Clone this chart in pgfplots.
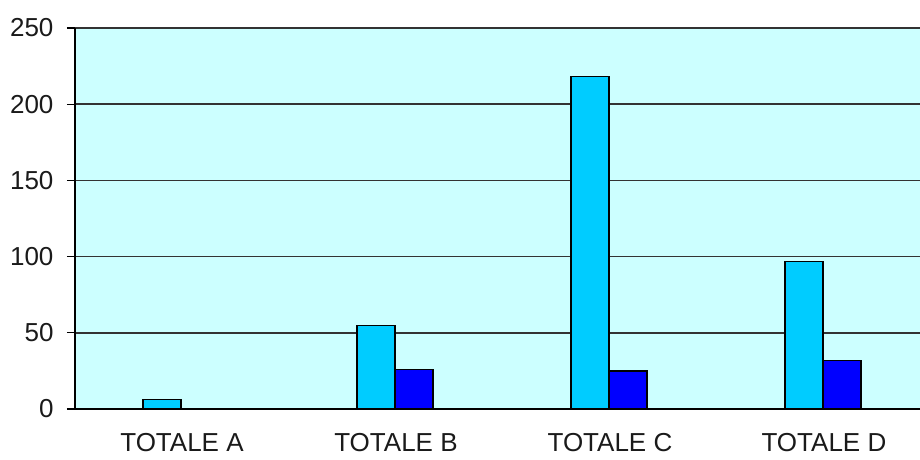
\documentclass[border=0pt]{standalone}
\usepackage{fontspec}
\setmainfont{Liberation Sans}
\usepackage{pgfplots}
\pgfplotsset{compat=1.18}
\definecolor{bgcol}{HTML}{CCFFFF}
\definecolor{lightbar}{HTML}{00CCFF}
\definecolor{darkbar}{HTML}{0000FF}
\definecolor{txt}{HTML}{1A1A1A}
\begin{document}
\begin{tikzpicture}
\begin{axis}[
  at={(0,0)}, anchor=south west,
  scale only axis,
  width=845pt, height=381pt,
  xmin=-0.5, xmax=3.449,
  ymin=0, ymax=250,
  ytick={0,50,100,150,200,250},
  xtick={0,1,2,3},
  xticklabels={TOTALE A,TOTALE B,TOTALE C,TOTALE D},
  major x tick style={draw=none},
  extra x ticks={0.5,1.5,2.5},
  extra x tick labels={},
  extra x tick style={major tick length=8pt, tick style={black, line width=1.2pt}, grid=none},
  tick align=outside,
  major tick length=8pt,
  ytick style={black, line width=1.2pt},
  axis x line*=bottom,
  axis y line*=left,
  axis line style={black, line width=1.3pt, -},
  ymajorgrids,
  grid style={draw=black!80, line width=1.6pt},
  axis background/.style={fill=bgcol},
  /pgf/number format/assume math mode=true,
  tick label style={font=\fontsize{26}{31}\selectfont, text=txt},
  yticklabel style={xshift=-10pt},
  xticklabel style={yshift=-13pt},
  ybar,
  bar width=38pt,
  clip=false,
]
\addplot[fill=lightbar, draw=black, line width=1.2pt, bar shift=-20pt]
  coordinates {(0,6) (1,55) (2,218) (3,97)};
\addplot[fill=darkbar, draw=black, line width=1.2pt, bar shift=18pt]
  coordinates {(1,26) (2,25) (3,32)};
\end{axis}
\pgfresetboundingbox
\useasboundingbox (-75pt,-50pt) rectangle (845pt,409pt);
\end{tikzpicture}
\end{document}
